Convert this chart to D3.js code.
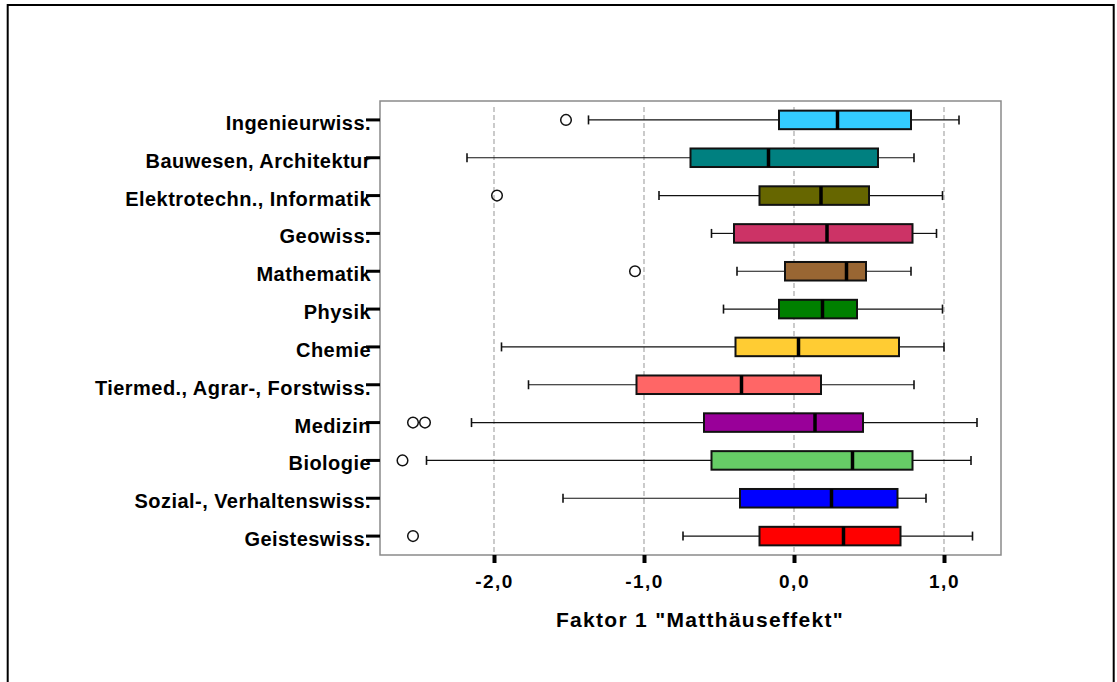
<!DOCTYPE html>
<html><head><meta charset="utf-8">
<script src="https://cdn.jsdelivr.net/npm/d3@7"></script>
<style>
html,body{margin:0;padding:0;background:#fff;}
svg{display:block;font-family:"Liberation Sans",Arial,sans-serif;}
</style></head>
<body>
<svg id="chart" width="1117" height="682"></svg>
<script>
const categories = ["Ingenieurwiss.","Bauwesen, Architektur","Elektrotechn., Informatik","Geowiss.","Mathematik","Physik","Chemie","Tiermed., Agrar-, Forstwiss.","Medizin","Biologie","Sozial-, Verhaltenswiss.","Geisteswiss."];
const whiskerLow  = [-1.37,-2.18,-0.90,-0.55,-0.38,-0.47,-1.95,-1.77,-2.15,-2.45,-1.54,-0.74];
const q1          = [-0.10,-0.69,-0.23,-0.40,-0.06,-0.10,-0.39,-1.05,-0.60,-0.55,-0.36,-0.23];
const median      = [ 0.29,-0.17, 0.18, 0.22, 0.35, 0.19, 0.03,-0.35, 0.14, 0.39, 0.25, 0.33];
const q3          = [ 0.78, 0.56, 0.50, 0.79, 0.48, 0.42, 0.70, 0.18, 0.46, 0.79, 0.69, 0.71];
const whiskerHigh = [ 1.10, 0.80, 0.99, 0.95, 0.78, 0.99, 1.00, 0.80, 1.22, 1.18, 0.88, 1.19];
const outliers    = [[-1.52],[],[-1.98],[],[-1.06],[],[],[],[-2.54,-2.46],[-2.61],[],[-2.54]];
const xTicks = [-2, -1, 0, 1];
const xTitle = 'Faktor 1 "Matthäuseffekt"';
const boxColors = ["#33CCFF","#008080","#666600","#CC3366","#996633","#008000","#FFCC33","#FF6666","#990099","#66CC66","#0000FF","#FF0000"];

const svg = d3.select("#chart");
const plot = {left:380, right:1001, top:101, bottom:555};

const x = d3.scaleLinear().domain([-2.76, 1.38]).range([plot.left, plot.right]);
const y = d3.scaleBand().domain(categories).range([plot.top, plot.bottom]).padding(0);
const bh = y.bandwidth() * 0.49;
const loc = d3.formatLocale({decimal:",", thousands:".", grouping:[3], currency:["","€"], minus:"-"});
const fmt = loc.format(".1f");

// outer frame
svg.append("rect").attr("x",7.7).attr("y",5).attr("width",1106).attr("height",720)
  .attr("fill","none").attr("stroke","#000").attr("stroke-width",2);

// plot frame
svg.append("rect").attr("x",plot.left).attr("y",plot.top)
  .attr("width",plot.right-plot.left).attr("height",plot.bottom-plot.top)
  .attr("fill","#fff").attr("stroke","#8a8a8a").attr("stroke-width",1.5);

// grid
svg.append("g").selectAll("line").data(xTicks).join("line")
  .attr("x1",d=>x(d)).attr("x2",d=>x(d))
  .attr("y1",plot.top+6).attr("y2",plot.bottom)
  .attr("stroke","#a8a8a8").attr("stroke-width",1.2).attr("stroke-dasharray","5,3");

// boxes
const rows = categories.map((c,i)=>({c,i,lo:whiskerLow[i],q1:q1[i],med:median[i],q3:q3[i],hi:whiskerHigh[i],out:outliers[i],col:boxColors[i]}));
const g = svg.append("g");
rows.forEach(r=>{
  const cy = y(r.c) + y.bandwidth()/2;
  const capH = 9;
  g.append("line").attr("x1",x(r.lo)).attr("x2",x(r.q1)).attr("y1",cy).attr("y2",cy).attr("stroke","#111").attr("stroke-width",1.2);
  g.append("line").attr("x1",x(r.q3)).attr("x2",x(r.hi)).attr("y1",cy).attr("y2",cy).attr("stroke","#111").attr("stroke-width",1.2);
  [r.lo,r.hi].forEach(v=>g.append("line").attr("x1",x(v)).attr("x2",x(v)).attr("y1",cy-capH/2).attr("y2",cy+capH/2).attr("stroke","#111").attr("stroke-width",1.6));
  g.append("rect").attr("x",x(r.q1)).attr("y",cy-bh/2).attr("width",x(r.q3)-x(r.q1)).attr("height",bh)
    .attr("fill",r.col).attr("stroke","#111").attr("stroke-width",2);
  g.append("line").attr("x1",x(r.med)).attr("x2",x(r.med)).attr("y1",cy-bh/2).attr("y2",cy+bh/2).attr("stroke","#000").attr("stroke-width",3.5);
  r.out.forEach(v=>g.append("circle").attr("cx",x(v)).attr("cy",cy).attr("r",5.3).attr("fill","none").attr("stroke","#111").attr("stroke-width",1.5));
});

// x axis
const xa = svg.append("g").attr("transform",`translate(0,${plot.bottom})`)
  .call(d3.axisBottom(x).tickValues(xTicks).tickSize(8).tickPadding(12).tickFormat(fmt));
xa.select(".domain").remove();
xa.selectAll(".tick line").attr("stroke","#000").attr("stroke-width",4);
xa.selectAll(".tick text").attr("fill","#000").style("font-size","19px").style("font-weight","bold")
  .style("letter-spacing","1.5px").attr("font-family",null);

// y axis
const ya = svg.append("g").attr("transform",`translate(${plot.left},0)`)
  .call(d3.axisLeft(y).tickSize(14).tickPadding(-5));
ya.select(".domain").remove();
ya.selectAll(".tick line").attr("stroke","#000").attr("stroke-width",3);
ya.selectAll(".tick text").attr("fill","#000").style("font-size","20px").style("font-weight","bold")
  .style("letter-spacing","0.45px").attr("dy","0.5em").attr("font-family",null);
ya.raise();

// x title
svg.append("text").attr("x",700).attr("y",627).attr("text-anchor","middle")
  .style("font-size","21px").style("font-weight","bold").style("letter-spacing","1.3px")
  .text(xTitle);
</script>
</body></html>
